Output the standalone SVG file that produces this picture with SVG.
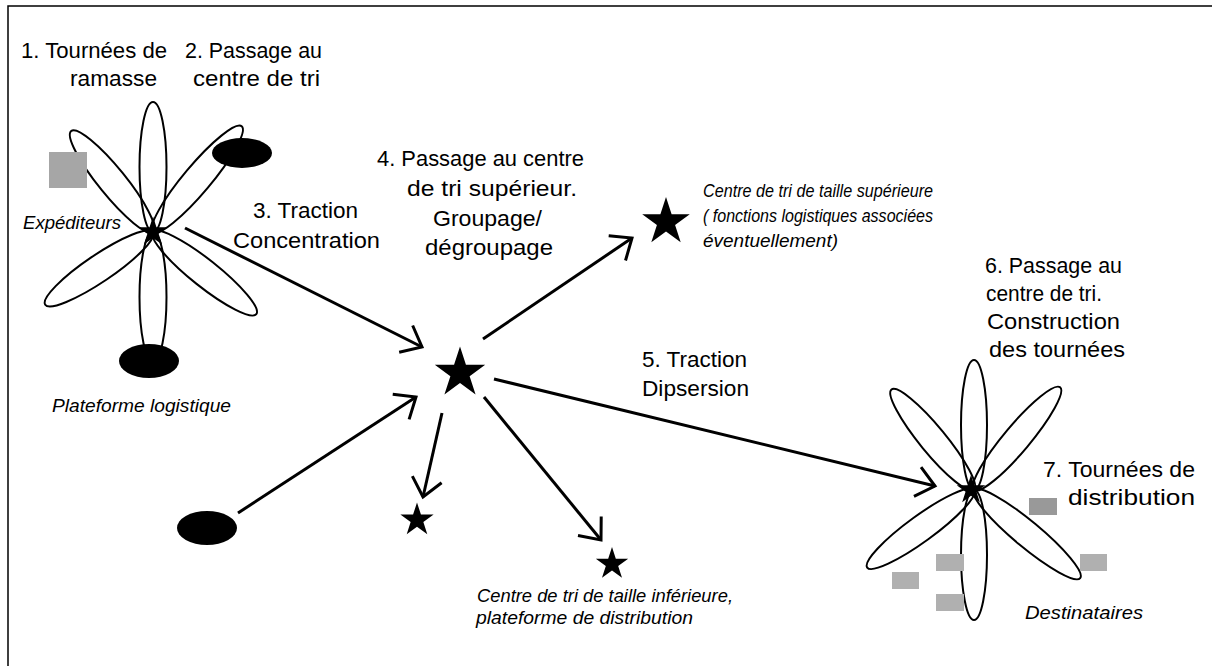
<svg xmlns="http://www.w3.org/2000/svg" width="1212" height="666" viewBox="0 0 1212 666">
  <style>
    .lbl { font-family: "Liberation Sans", Arial, sans-serif; font-size: 22px; fill: #000; }
    .it { font-family: "Liberation Sans", Arial, sans-serif; font-size: 18px; font-style: italic; fill: #000; }
    .petal { fill: none; stroke: #000; stroke-width: 2; }
    .blob { fill: #000; }
    .conn { stroke: #000; stroke-width: 3; fill: none; marker-end: url(#ah); }
    .grey { fill: #b0b0b0; }
  </style>
  <defs>
    <marker id="ah" markerUnits="userSpaceOnUse" viewBox="0 0 40 40" markerWidth="40" markerHeight="40" refX="20" refY="20" orient="auto" overflow="visible">
      <path d="M2,5 L20,20 L2,35" fill="none" stroke="#000" stroke-width="3"/>
    </marker>
    <path id="star" d="M0,-10 L2.245,-3.09 L9.511,-3.09 L3.633,1.18 L5.878,8.09 L0,3.82 L-5.878,8.09 L-3.633,1.18 L-9.511,-3.09 L-2.245,-3.09 Z" fill="#000"/>
  </defs>

  <rect id="frame" x="8" y="6" width="1220" height="680" fill="none" stroke="#000" stroke-width="1.5"/>

  <!-- Left collection flower -->
  <g id="flower-left">
    <g transform="translate(153,232)">
      <ellipse class="petal" cx="65" cy="0" rx="65" ry="13.5" transform="rotate(-90)"/>
      <ellipse class="petal" cx="65" cy="0" rx="65" ry="13.5" transform="rotate(-129)"/>
      <ellipse class="petal" cx="69" cy="0" rx="69" ry="13.5" transform="rotate(-50)"/>
      <ellipse class="petal" cx="65" cy="0" rx="65" ry="13.5" transform="rotate(146)"/>
      <ellipse class="petal" cx="66" cy="0" rx="66" ry="13.5" transform="rotate(38.5)"/>
      <ellipse class="petal" cx="65" cy="0" rx="65" ry="13.5" transform="rotate(90)"/>
    </g>
    <use href="#star" transform="translate(153,232) scale(1.55)"/>
  </g>
  <g id="expediteurs">
    <rect x="49" y="152" width="38" height="36" fill="#a6a6a6"/>
    <text class="it" x="23" y="229" textLength="98" lengthAdjust="spacingAndGlyphs">Expéditeurs</text>
  </g>
  <g id="plateforme-haut">
    <ellipse class="blob" cx="242" cy="153" rx="30" ry="15"/>
  </g>
  <g id="plateforme-bas">
    <ellipse class="blob" cx="149" cy="361" rx="30" ry="17"/>
    <text class="it" x="52" y="412" textLength="179" lengthAdjust="spacingAndGlyphs">Plateforme logistique</text>
  </g>
  <g id="plateforme-isolee">
    <ellipse class="blob" cx="207" cy="528" rx="30" ry="17"/>
  </g>

  <!-- Central hub -->
  <g id="hub">
    <use href="#star" transform="translate(460,373) scale(2.65)"/>
  </g>
  <g id="centre-superieur">
    <use href="#star" transform="translate(666,222) scale(2.5)"/>
    <text class="it" x="703" y="197" textLength="230" lengthAdjust="spacingAndGlyphs">Centre de tri de taille supérieure</text>
    <text class="it" x="703" y="222" textLength="230" lengthAdjust="spacingAndGlyphs">( fonctions logistiques associées</text>
    <text class="it" x="703" y="247" textLength="135" lengthAdjust="spacingAndGlyphs">éventuellement)</text>
  </g>
  <g id="centre-inferieur-1">
    <use href="#star" transform="translate(417,520) scale(1.75)"/>
  </g>
  <g id="centre-inferieur-2">
    <use href="#star" transform="translate(612,564) scale(1.7)"/>
    <text class="it" x="477" y="602" textLength="256" lengthAdjust="spacingAndGlyphs">Centre de tri de taille inférieure,</text>
    <text class="it" x="476" y="624" textLength="217" lengthAdjust="spacingAndGlyphs">plateforme de distribution</text>
  </g>

  <!-- Right distribution flower -->
  <g id="flower-right">
    <g transform="translate(974,490)">
      <ellipse class="petal" cx="65" cy="0" rx="65" ry="13" transform="rotate(-90)"/>
      <ellipse class="petal" cx="65" cy="0" rx="65" ry="13" transform="rotate(-129.4)"/>
      <ellipse class="petal" cx="67" cy="0" rx="67" ry="13" transform="rotate(-50)"/>
      <ellipse class="petal" cx="66" cy="0" rx="66" ry="13" transform="rotate(144)"/>
      <ellipse class="petal" cx="69" cy="0" rx="69" ry="13" transform="rotate(39.7)"/>
      <ellipse class="petal" cx="65" cy="0" rx="65" ry="13" transform="rotate(90)"/>
    </g>
    <use href="#star" transform="translate(971,490) scale(1.5)"/>
  </g>
  <g id="destinataires">
    <rect x="1029" y="498" width="28" height="17" fill="#999999"/>
    <rect class="grey" x="936" y="554" width="28" height="17"/>
    <rect class="grey" x="892" y="572" width="27" height="17"/>
    <rect class="grey" x="936" y="594" width="28" height="17"/>
    <rect class="grey" x="1080" y="554" width="27" height="17"/>
    <text class="it" x="1025" y="619" textLength="118" lengthAdjust="spacingAndGlyphs">Destinataires</text>
  </g>

  <!-- Connectors -->
  <g id="connectors">
    <line class="conn" x1="185" y1="228" x2="422" y2="347"/>
    <line class="conn" x1="238" y1="513" x2="416" y2="397"/>
    <line class="conn" x1="483" y1="339" x2="632" y2="238"/>
    <line class="conn" x1="494" y1="379" x2="935" y2="486"/>
    <line class="conn" x1="442" y1="413" x2="423" y2="497"/>
    <line class="conn" x1="484" y1="397" x2="601" y2="540"/>
  </g>

  <!-- Step labels -->
  <g id="label-1">
    <text class="lbl" x="21" y="58" textLength="146" lengthAdjust="spacingAndGlyphs">1. Tournées de</text>
    <text class="lbl" x="70" y="86" textLength="87" lengthAdjust="spacingAndGlyphs">ramasse</text>
  </g>
  <g id="label-2">
    <text class="lbl" x="185" y="58" textLength="137" lengthAdjust="spacingAndGlyphs">2. Passage au</text>
    <text class="lbl" x="193" y="86" textLength="127" lengthAdjust="spacingAndGlyphs">centre de tri</text>
  </g>
  <g id="label-3">
    <text class="lbl" x="253" y="218" textLength="105" lengthAdjust="spacingAndGlyphs">3. Traction</text>
    <text class="lbl" x="233" y="248" textLength="147" lengthAdjust="spacingAndGlyphs">Concentration</text>
  </g>
  <g id="label-4">
    <text class="lbl" x="377" y="166" textLength="207" lengthAdjust="spacingAndGlyphs">4. Passage au centre</text>
    <text class="lbl" x="407" y="196" textLength="170" lengthAdjust="spacingAndGlyphs">de tri  supérieur.</text>
    <text class="lbl" x="433" y="226" textLength="109" lengthAdjust="spacingAndGlyphs">Groupage/</text>
    <text class="lbl" x="425" y="255" textLength="128" lengthAdjust="spacingAndGlyphs">dégroupage</text>
  </g>
  <g id="label-5">
    <text class="lbl" x="642" y="367" textLength="105" lengthAdjust="spacingAndGlyphs">5. Traction</text>
    <text class="lbl" x="642" y="396" textLength="107" lengthAdjust="spacingAndGlyphs">Dipsersion</text>
  </g>
  <g id="label-6">
    <text class="lbl" x="985" y="273" textLength="137" lengthAdjust="spacingAndGlyphs">6. Passage au</text>
    <text class="lbl" x="986" y="301" textLength="116" lengthAdjust="spacingAndGlyphs">centre de tri.</text>
    <text class="lbl" x="987" y="329" textLength="133" lengthAdjust="spacingAndGlyphs">Construction</text>
    <text class="lbl" x="989" y="357" textLength="136" lengthAdjust="spacingAndGlyphs">des tournées</text>
  </g>
  <g id="label-7">
    <text class="lbl" x="1043" y="477" textLength="152" lengthAdjust="spacingAndGlyphs">7. Tournées de</text>
    <text class="lbl" x="1068" y="505" textLength="127" lengthAdjust="spacingAndGlyphs">distribution</text>
  </g>
</svg>
